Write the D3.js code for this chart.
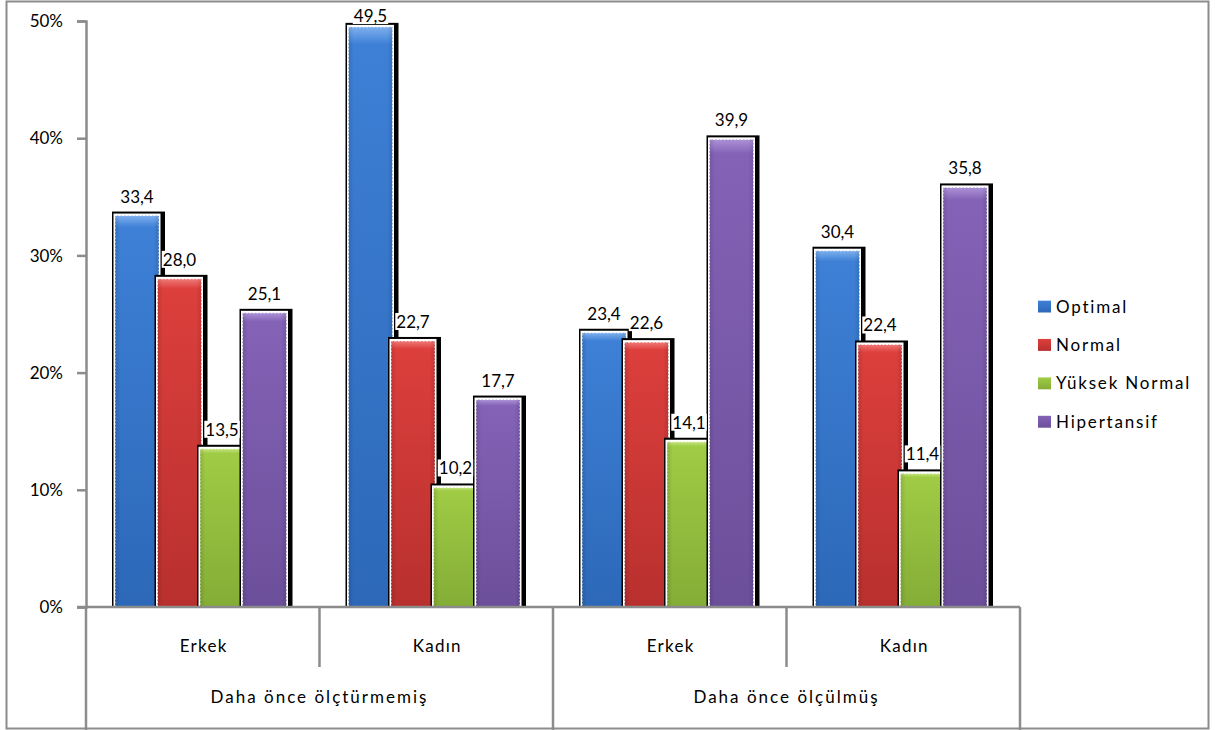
<!DOCTYPE html>
<html>
<head>
<meta charset="utf-8">
<script src="https://cdn.jsdelivr.net/npm/d3@7"></script>
<style>
  html, body { margin: 0; padding: 0; background: #fff; }
  svg { display: block; }
  text { font-family: Lato, "Open Sans", sans-serif; fill: #000; }
</style>
</head>
<body>
<svg id="chart" width="1215" height="730"></svg>
<script>
// ---- data ----
const outerCategories = ["Daha önce ölçtürmemiş", "Daha önce ölçülmüş"];
const innerCategories = ["Erkek", "Kadın"];
const seriesNames = ["Optimal", "Normal", "Yüksek Normal", "Hipertansif"];
const optimalValues = [33.4, 49.5, 23.4, 30.4];
const normalValues = [28.0, 22.7, 22.6, 22.4];
const yuksekNormalValues = [13.5, 10.2, 14.1, 11.4];
const hipertansifValues = [25.1, 17.7, 39.9, 35.8];
const yTickValues = [0, 10, 20, 30, 40, 50];
const yTickLabels = ["0%", "10%", "20%", "30%", "40%", "50%"];

const seriesValues = [optimalValues, normalValues, yuksekNormalValues, hipertansifValues];
const seriesColors = [
  {top: "#7fb0ee", mid: "#3d80d6", bot: "#2d68b8"},
  {top: "#f07a78", mid: "#dc3f3c", bot: "#b8302e"},
  {top: "#c4e57e", mid: "#9fcb45", bot: "#84ad36"},
  {top: "#ac92d8", mid: "#8462b6", bot: "#6c4f9b"}
];

const groups = [];
outerCategories.forEach(o => innerCategories.forEach(i => groups.push(o + "|" + i)));

const FS = "17px";
const svg = d3.select("#chart");
const defs = svg.append("defs");
seriesColors.forEach((c, i) => {
  const g = defs.append("linearGradient").attr("id", "grad" + i)
    .attr("x1", 0).attr("y1", 0).attr("x2", 0).attr("y2", 1);
  g.append("stop").attr("offset", "0%").attr("stop-color", c.top);
  g.append("stop").attr("offset", "3%").attr("stop-color", c.mid);
  g.append("stop").attr("offset", "100%").attr("stop-color", c.bot);
  const h = defs.append("linearGradient").attr("id", "hgrad" + i)
    .attr("x1", 0).attr("y1", 0).attr("x2", 1).attr("y2", 0);
  h.append("stop").attr("offset", "0%").attr("stop-color", "#000").attr("stop-opacity", 0.12);
  h.append("stop").attr("offset", "12%").attr("stop-color", "#000").attr("stop-opacity", 0);
  h.append("stop").attr("offset", "88%").attr("stop-color", "#000").attr("stop-opacity", 0);
  h.append("stop").attr("offset", "100%").attr("stop-color", "#000").attr("stop-opacity", 0.12);
});

// letter-spacing fitted from a sample string so word labels match the reference widths
function fitSpacing(sel, sampleText, targetWidth) {
  const probe = svg.append("text").style("font-size", FS).text(sampleText);
  const w = probe.node().getComputedTextLength();
  probe.remove();
  const ls = Math.max(0, (targetWidth - w) / sampleText.length);
  sel.style("letter-spacing", ls + "px");
}

// outer frame
svg.append("rect").attr("x", 6.5).attr("y", 1.5).attr("width", 1202).attr("height", 727)
  .attr("fill", "none").attr("stroke", "#8c8c8c").attr("stroke-width", 2);

const plotLeft = 86, plotRight = 1020, plotTop = 21, plotBottom = 607;
const x = d3.scaleBand().domain(groups).range([plotLeft, plotRight]).padding(0);
const xs = d3.scaleBand().domain(seriesNames).range([29, 199]).padding(0);
const y = d3.scaleLinear().domain([0, 50]).range([plotBottom, plotTop]);

// y axis
const yAxis = d3.axisLeft(y).tickValues(yTickValues)
  .tickFormat((d, i) => yTickLabels[i]).tickSize(9).tickPadding(14);
const yg = svg.append("g").attr("transform", `translate(${plotLeft},0)`).call(yAxis);
yg.select(".domain").attr("stroke", "#8c8c8c").attr("stroke-width", 2.5);
yg.selectAll(".tick line").attr("stroke", "#8c8c8c").attr("stroke-width", 2.5);
yg.selectAll(".tick text").style("font-size", FS).style("font-family", "Lato, sans-serif")
  .attr("fill", "#000").attr("dy", "0.34em");

// bars
const barW = 44;
const barLayer = svg.append("g");
groups.forEach((gk, gi) => {
  seriesNames.forEach((s, si) => {
    const v = seriesValues[si][gi];
    const x0 = x(gk) + xs(s);
    const yt = y(v);
    const h = plotBottom - yt;
    barLayer.append("rect").attr("x", x0 - 3).attr("y", yt - 4)
      .attr("width", barW + 9).attr("height", h + 4).attr("fill", "#000");
    barLayer.append("rect").attr("x", x0 - 1.5).attr("y", yt - 2)
      .attr("width", barW + 3).attr("height", h + 2).attr("fill", "#fff");
    barLayer.append("rect").attr("x", x0).attr("y", yt)
      .attr("width", barW).attr("height", h).attr("fill", `url(#grad${si})`)
      .attr("stroke", "#fff").attr("stroke-width", 1).attr("stroke-dasharray", "2,1.5");
    barLayer.append("rect").attr("x", x0).attr("y", yt)
      .attr("width", barW).attr("height", h).attr("fill", `url(#hgrad${si})`);
  });
});

// x axis line
svg.append("line").attr("x1", plotLeft - 9).attr("x2", plotRight).attr("y1", plotBottom).attr("y2", plotBottom)
  .attr("stroke", "#8c8c8c").attr("stroke-width", 2.5);

// category separators
const sepLayer = svg.append("g").attr("stroke", "#8c8c8c").attr("stroke-width", 2.5);
groups.forEach((gk, gi) => {
  const xl = x(gk);
  const isOuterStart = gi % innerCategories.length === 0;
  sepLayer.append("line").attr("x1", xl).attr("x2", xl).attr("y1", plotBottom)
    .attr("y2", isOuterStart ? 730 : 667);
});
sepLayer.append("line").attr("x1", plotRight).attr("x2", plotRight).attr("y1", plotBottom).attr("y2", 730);

// inner category labels
const innerSel = svg.append("g").selectAll("text").data(groups).join("text")
  .attr("x", d => x(d) + x.bandwidth() / 2 + 1).attr("y", 652)
  .attr("text-anchor", "middle").style("font-size", FS)
  .text((d, gi) => innerCategories[gi % innerCategories.length]);
fitSpacing(innerSel, "Erkek", 48);

// outer category labels
const outerSel = svg.append("g").selectAll("text").data(outerCategories).join("text")
  .attr("x", o => {
    const first = x(o + "|" + innerCategories[0]);
    const last = x(o + "|" + innerCategories[innerCategories.length - 1]) + x.bandwidth();
    return (first + last) / 2;
  })
  .attr("y", 703).attr("text-anchor", "middle").style("font-size", FS).text(o => o);
fitSpacing(outerSel, "Daha önce ölçtürmemiş", 218);

// data labels
const fmt = v => d3.format(".1f")(v).replace(".", ",");
const labelLayer = svg.append("g");
groups.forEach((gk, gi) => {
  seriesNames.forEach((s, si) => {
    const v = seriesValues[si][gi];
    const cx = x(gk) + xs(s) + barW / 2;
    const by = Math.max(y(v) - 13, 22);
    const t = labelLayer.append("text").attr("x", cx).attr("y", by)
      .attr("text-anchor", "middle").style("font-size", FS).text(fmt(v));
    const bb = t.node().getBBox();
    labelLayer.insert("rect", () => t.node()).attr("x", bb.x - 1).attr("y", bb.y + 2)
      .attr("width", bb.width + 2).attr("height", bb.height - 4).attr("fill", "#fff");
  });
});

// legend
const legend = svg.append("g").attr("transform", "translate(1038,306.5)");
const legendItems = legend.selectAll("g").data(seriesNames).join("g")
  .attr("transform", (d, i) => `translate(0,${i * 38.4})`);
legendItems.append("rect").attr("x", 0).attr("y", -6).attr("width", 13).attr("height", 12)
  .attr("fill", (d, i) => `url(#grad${i})`);
const legendText = legendItems.append("text").attr("x", 18).attr("y", 6)
  .style("font-size", FS).text(d => d);
fitSpacing(legendText, "Yüksek Normal", 135);
</script>
</body>
</html>
